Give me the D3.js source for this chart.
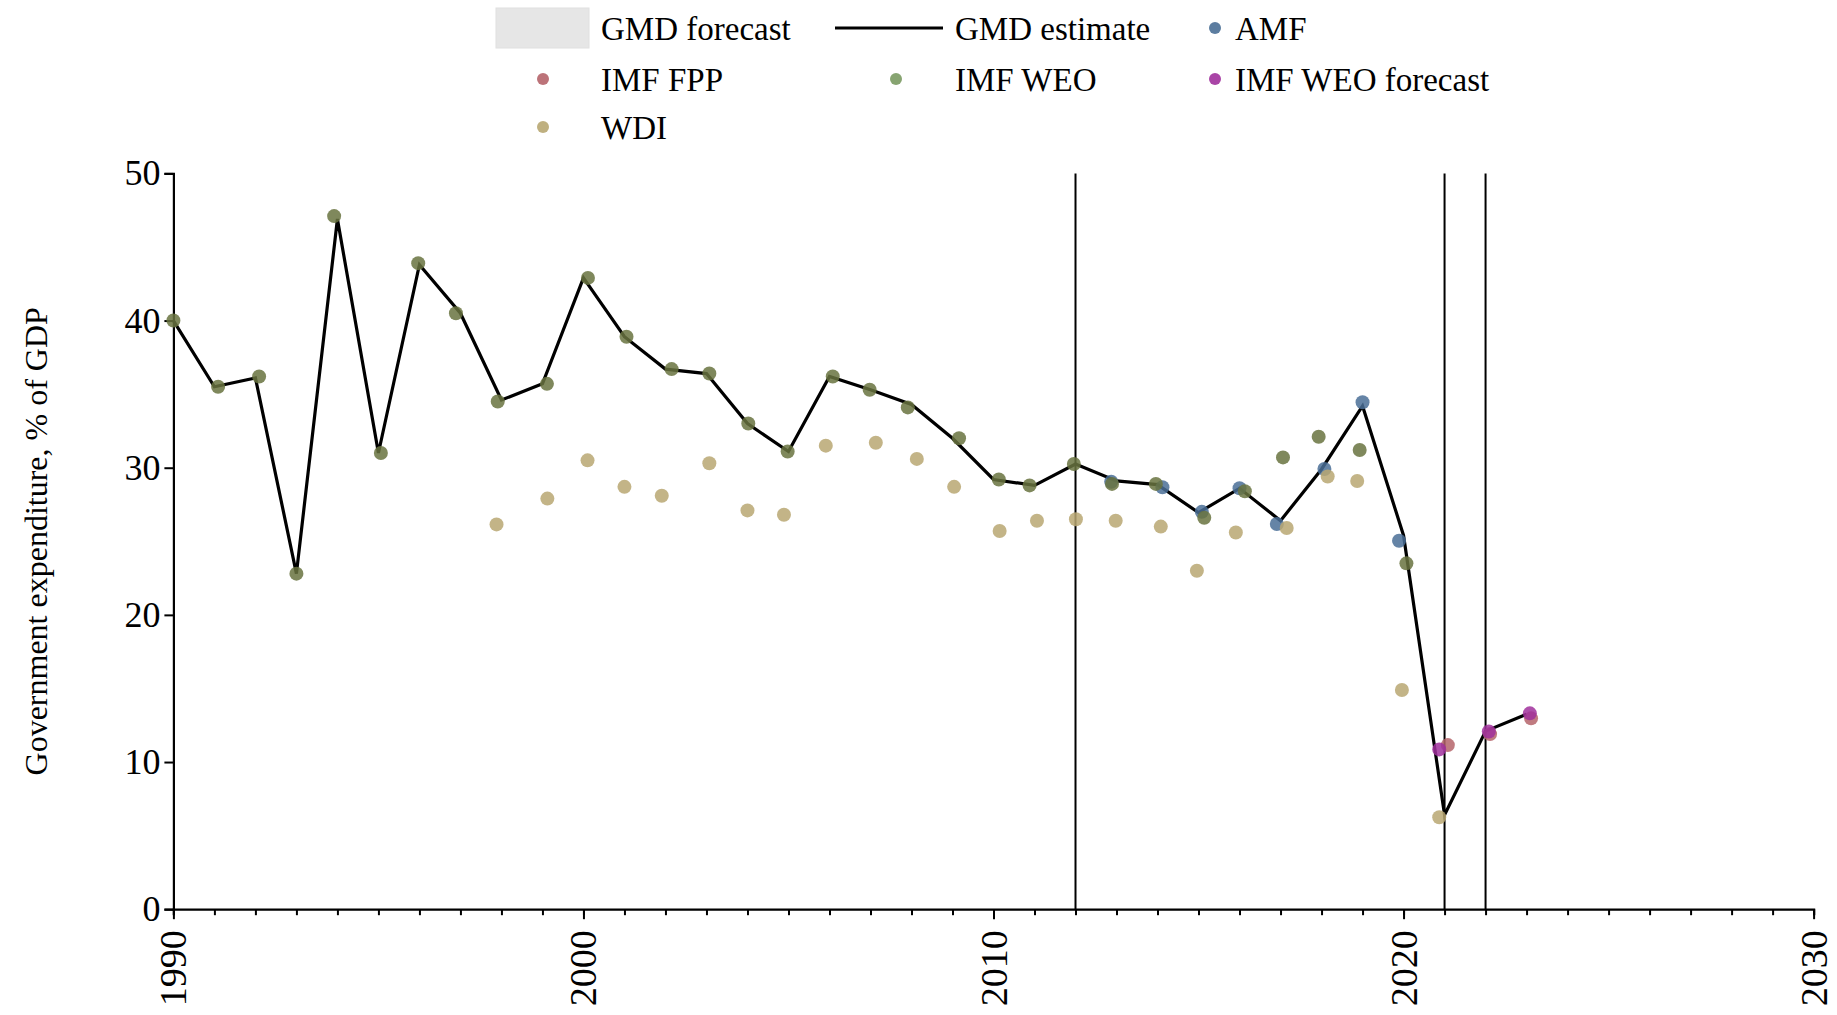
<!DOCTYPE html>
<html><head><meta charset="utf-8">
<script src="https://cdn.jsdelivr.net/npm/d3@7"></script>
<style>body{margin:0;background:#fff}svg{display:block}</style>
</head><body>
<script>
// ---------- DATA ----------
const estimateYears = d3.range(1990, 2024);
const gmdEstimate = [40.0, 35.5, 36.1, 22.8, 46.9, 31.0, 43.8, 40.5, 34.6, 35.7,
  42.9, 38.9, 36.7, 36.4, 33.0, 31.1, 36.2, 35.3, 34.3, 32.0,
  29.2, 28.8, 30.25, 29.1, 28.85, 26.95, 28.6, 26.4, 29.9, 34.2,
  25.4, 6.4, 12.1, 13.25];

const amfYears = [2012.87, 2014.12, 2015.08, 2016.0, 2016.91, 2018.07, 2019.0, 2019.89];
const amfValues = [29.05, 28.67, 27.0, 28.6, 26.18, 29.91, 34.45, 25.04];

const fppYears = [2021.08, 2022.11, 2023.11];
const fppValues = [11.15, 11.9, 12.97];

const weoYears = [1990.0, 1991.09, 1992.09, 1993.0, 1993.92, 1995.06, 1995.97, 1996.89, 1997.91, 1999.11,
  2000.11, 2001.05, 2002.15, 2003.07, 2004.02, 2004.98, 2006.08, 2006.98, 2007.91, 2009.16,
  2010.13, 2010.88, 2011.96, 2012.89, 2013.96, 2015.14, 2016.13, 2017.06, 2017.93, 2018.93,
  2020.07];
const weoValues = [40.0, 35.5, 36.2, 22.8, 47.1, 31.0, 43.9, 40.5, 34.5, 35.7,
  42.9, 38.9, 36.7, 36.4, 33.0, 31.1, 36.2, 35.3, 34.1, 32.0,
  29.2, 28.8, 30.25, 28.9, 28.9, 26.6, 28.4, 30.7, 32.1, 31.2,
  23.5];

const weoForecastYears = [2020.87, 2022.08, 2023.08];
const weoForecastValues = [10.86, 12.08, 13.31];

const wdiYears = [1997.88, 1999.12, 2000.1, 2001.0, 2001.91, 2003.07, 2004.0, 2004.89, 2005.91, 2007.13,
  2008.13, 2009.04, 2010.15, 2011.06, 2012.01, 2012.98, 2014.08, 2014.96, 2015.91, 2017.15,
  2018.15, 2018.87, 2019.96, 2020.87];
const wdiValues = [26.15, 27.9, 30.5, 28.7, 28.1, 30.3, 27.1, 26.8, 31.5, 31.7,
  30.6, 28.7, 25.7, 26.4, 26.5, 26.4, 26.0, 23.0, 25.6, 25.9,
  29.4, 29.1, 14.9, 6.25];

const markerYears = [2012, 2021, 2022];

const yTicks = [0, 10, 20, 30, 40, 50];
const xTickLabels = [1990, 2000, 2010, 2020, 2030];
const xMinorTicks = d3.range(1990, 2031);

const legendLabels = ["GMD forecast", "GMD estimate", "AMF", "IMF FPP", "IMF WEO", "IMF WEO forecast", "WDI"];

// ---------- LAYOUT ----------
const W = 1837, H = 1015;
const svg = d3.select("body").append("svg").attr("width", W).attr("height", H)
  .style("font-family", "'Liberation Serif', 'Times New Roman', serif");

const x = d3.scaleLinear().domain([1990, 2030]).range([173.4, 1813.6]);
const y = d3.scaleLinear().domain([0, 50]).range([909.2, 173.4]);

const colors = {
  amf: "#4a6f96", fpp: "#b5646a", weo: "#687340", weoLegend: "#7a9a62",
  weoF: "#a0309c", wdi: "#b8a772"
};

// vertical marker lines
svg.append("g").selectAll("line").data(markerYears).join("line")
  .attr("x1", d => x(d)).attr("x2", d => x(d))
  .attr("y1", y(50)).attr("y2", y(0))
  .attr("stroke", "#000").attr("stroke-width", 2);

// axes
const yAxis = d3.axisLeft(y).tickValues(yTicks).tickSize(9).tickPadding(4).tickFormat(d3.format("d"));
const gy = svg.append("g").attr("transform", `translate(${x(1990)},0)`).call(yAxis);
gy.select(".domain").attr("stroke-width", 2.2);
gy.selectAll(".tick line").attr("stroke-width", 2);
gy.selectAll(".tick text").attr("font-size", 36).attr("font-family", "'Liberation Serif', serif").attr("fill", "#000");

const xMinor = d3.axisBottom(x).tickValues(xMinorTicks).tickSize(6).tickFormat("");
const gxm = svg.append("g").attr("transform", `translate(0,${y(0)})`).call(xMinor);
gxm.select(".domain").attr("stroke-width", 2.2);
gxm.selectAll(".tick line").attr("stroke-width", 2);

const xAxis = d3.axisBottom(x).tickValues(xTickLabels).tickSize(10).tickFormat(d3.format("d"));
const gx = svg.append("g").attr("transform", `translate(0,${y(0)})`).call(xAxis);
gx.select(".domain").remove();
gx.selectAll(".tick line").attr("stroke-width", 2);
gx.selectAll(".tick text")
  .attr("font-size", 38).attr("font-family", "'Liberation Serif', serif").attr("fill", "#000")
  .attr("transform", "rotate(-90)")
  .attr("text-anchor", "end")
  .attr("x", -21).attr("y", 0).attr("dy", "0.33em");

// y title
svg.append("text")
  .attr("transform", `translate(36,${(y(0) + y(50)) / 2}) rotate(-90)`)
  .attr("text-anchor", "middle").attr("dominant-baseline", "central")
  .attr("font-size", 32).attr("fill", "#000")
  .text("Government expenditure, % of GDP");

// GMD estimate line
const line = d3.line().x(d => x(d[0])).y(d => y(d[1]));
svg.append("path")
  .datum(estimateYears.map((yr, i) => [yr, gmdEstimate[i]]))
  .attr("d", line).attr("fill", "none").attr("stroke", "#000")
  .attr("stroke-width", 3.2).attr("stroke-linejoin", "miter");

// dots
function dots(xs, vs, color) {
  svg.append("g").selectAll("circle").data(xs.map((xx, i) => [xx, vs[i]])).join("circle")
    .attr("cx", d => x(d[0])).attr("cy", d => y(d[1])).attr("r", 7)
    .attr("fill", color).attr("fill-opacity", 0.85);
}
dots(amfYears, amfValues, colors.amf);
dots(fppYears, fppValues, colors.fpp);
dots(weoYears, weoValues, colors.weo);
dots(weoForecastYears, weoForecastValues, colors.weoF);
dots(wdiYears, wdiValues, colors.wdi);

// legend
const lg = svg.append("g").attr("font-size", 33).attr("fill", "#000");
const rows = [28, 79, 127];
const legendItems = [
  {label: legendLabels[0], type: "rect", sx: 542.5, tx: 601, row: 0},
  {label: legendLabels[1], type: "line", sx: 889, tx: 955, row: 0},
  {label: legendLabels[2], type: "dot", color: colors.amf, sx: 1215, tx: 1235, row: 0},
  {label: legendLabels[3], type: "dot", color: colors.fpp, sx: 543, tx: 601, row: 1},
  {label: legendLabels[4], type: "dot", color: colors.weoLegend, sx: 896, tx: 955, row: 1},
  {label: legendLabels[5], type: "dot", color: colors.weoF, sx: 1215, tx: 1235, row: 1},
  {label: legendLabels[6], type: "dot", color: colors.wdi, sx: 543, tx: 601, row: 2}
];
legendItems.forEach(it => {
  const cy = rows[it.row];
  if (it.type === "rect") {
    lg.append("rect").attr("x", it.sx - 46.5).attr("y", cy - 20).attr("width", 93).attr("height", 40)
      .attr("fill", "#e6e6e6").attr("stroke", "#e0e0e0").attr("stroke-width", 1);
  } else if (it.type === "line") {
    lg.append("line").attr("x1", it.sx - 54).attr("x2", it.sx + 54).attr("y1", cy).attr("y2", cy)
      .attr("stroke", "#000").attr("stroke-width", 3.2);
  } else {
    lg.append("circle").attr("cx", it.sx).attr("cy", cy).attr("r", 6)
      .attr("fill", it.color).attr("fill-opacity", 0.9);
  }
  lg.append("text").attr("x", it.tx).attr("y", cy + 11.5).text(it.label);
});
</script>
</body></html>
